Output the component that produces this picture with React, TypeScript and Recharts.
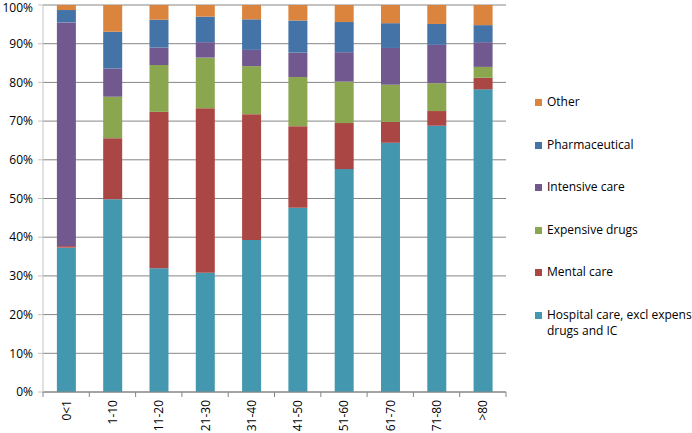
import { BarChart, Bar, XAxis, YAxis, CartesianGrid } from "recharts";

const ageGroups = ["0<1", "1-10", "11-20", "21-30", "31-40", "41-50", "51-60", "61-70", "71-80", ">80"];

// shares per age group, in percent
const hospitalCare = [37.3, 49.8, 32.0, 30.8, 39.3, 47.6, 57.6, 64.4, 68.8, 78.2];
const mentalCare = [0.4, 15.8, 40.4, 42.5, 32.5, 21.1, 11.9, 5.4, 3.8, 3.0];
const expensiveDrugs = [0, 10.7, 12.1, 13.1, 12.4, 12.7, 10.7, 9.6, 7.2, 2.8];
const intensiveCare = [57.8, 7.3, 4.5, 4.0, 4.2, 6.3, 7.6, 9.5, 9.9, 6.4];
const pharmaceutical = [3.2, 9.5, 7.2, 6.6, 7.9, 8.3, 7.8, 6.4, 5.4, 4.4];
const other = [1.3, 6.9, 3.8, 3.0, 3.7, 4.0, 4.4, 4.7, 4.9, 5.2];

const yTicks = [0, 0.1, 0.2, 0.3, 0.4, 0.5, 0.6, 0.7, 0.8, 0.9, 1];

const series = [
  { key: "hospital", name: "Hospital care, excl expensive drugs and IC", values: hospitalCare, color: "#4398b0" },
  { key: "mental", name: "Mental care", values: mentalCare, color: "#aa4644" },
  { key: "drugs", name: "Expensive drugs", values: expensiveDrugs, color: "#8aa64f" },
  { key: "ic", name: "Intensive care", values: intensiveCare, color: "#71598f" },
  { key: "pharma", name: "Pharmaceutical", values: pharmaceutical, color: "#4473a8" },
  { key: "other", name: "Other", values: other, color: "#db843d" },
];

const data = ageGroups.map((group, i) => {
  const row: Record<string, string | number> = { group };
  series.forEach((s) => {
    row[s.key] = s.values[i];
  });
  return row;
});

const W = 692;
const H = 433;
const margin = { top: 5, right: 186, bottom: 0, left: 0 };
const yAxisWidth = 43;
const band = (W - margin.left - margin.right - yAxisWidth) / ageGroups.length;
const font = "'Open Sans', sans-serif";

const AgeTick = (props: any) => {
  const { x, y, payload, index } = props;
  return (
    <g>
      <line x1={x - band / 2} y1={y} x2={x - band / 2} y2={y + 5} stroke="#868686" />
      {index === ageGroups.length - 1 && (
        <line x1={x + band / 2} y1={y} x2={x + band / 2} y2={y + 5} stroke="#868686" />
      )}
      <text
        x={x}
        y={y + 8}
        transform={`rotate(-90, ${x}, ${y + 8})`}
        textAnchor="end"
        dominantBaseline="central"
        fontSize={12}
        fontFamily={font}
        fill="#000"
      >
        {payload.value}
      </text>
    </g>
  );
};

export default function App() {
  return (
    <div
      style={{
        position: "fixed",
        top: 0,
        left: 0,
        width: W,
        height: H,
        overflow: "hidden",
        background: "#fff",
        fontFamily: font,
      }}
    >
      <BarChart
        width={W}
        height={H}
        data={data}
        margin={margin}
        stackOffset="expand"
        barCategoryGap="30%"
      >
        <CartesianGrid vertical={false} stroke="#868686" />
        <XAxis
          dataKey="group"
          interval={0}
          height={41}
          tickLine={false}
          tickSize={0}
          tickMargin={0}
          stroke="#868686"
          tick={<AgeTick />}
        />
        <YAxis
          width={yAxisWidth}
          domain={[0, 1]}
          ticks={yTicks}
          tickFormatter={(v: number) => `${Math.round(v * 100)}%`}
          tickSize={5}
          tickMargin={5}
          stroke="#c4c4c4"
          tick={{ fill: "#000", fontSize: 12, fontFamily: font }}
        />
        {series.map((s) => (
          <Bar
            key={s.key}
            dataKey={s.key}
            name={s.name}
            stackId="a"
            fill={s.color}
            isAnimationActive={false}
          />
        ))}
      </BarChart>
      <div style={{ position: "absolute", left: 535, top: 94 }}>
        {[...series].reverse().map((s) => (
          <div
            key={s.key}
            style={{ display: "flex", alignItems: "flex-start", height: 42.5 }}
          >
            <div
              style={{
                width: 7,
                height: 7,
                marginTop: 5,
                marginRight: 5,
                background: s.color,
                flexShrink: 0,
              }}
            />
            <div style={{ width: 190, fontSize: 12, lineHeight: "16px", color: "#000" }}>
              {s.name}
            </div>
          </div>
        ))}
      </div>
    </div>
  );
}
